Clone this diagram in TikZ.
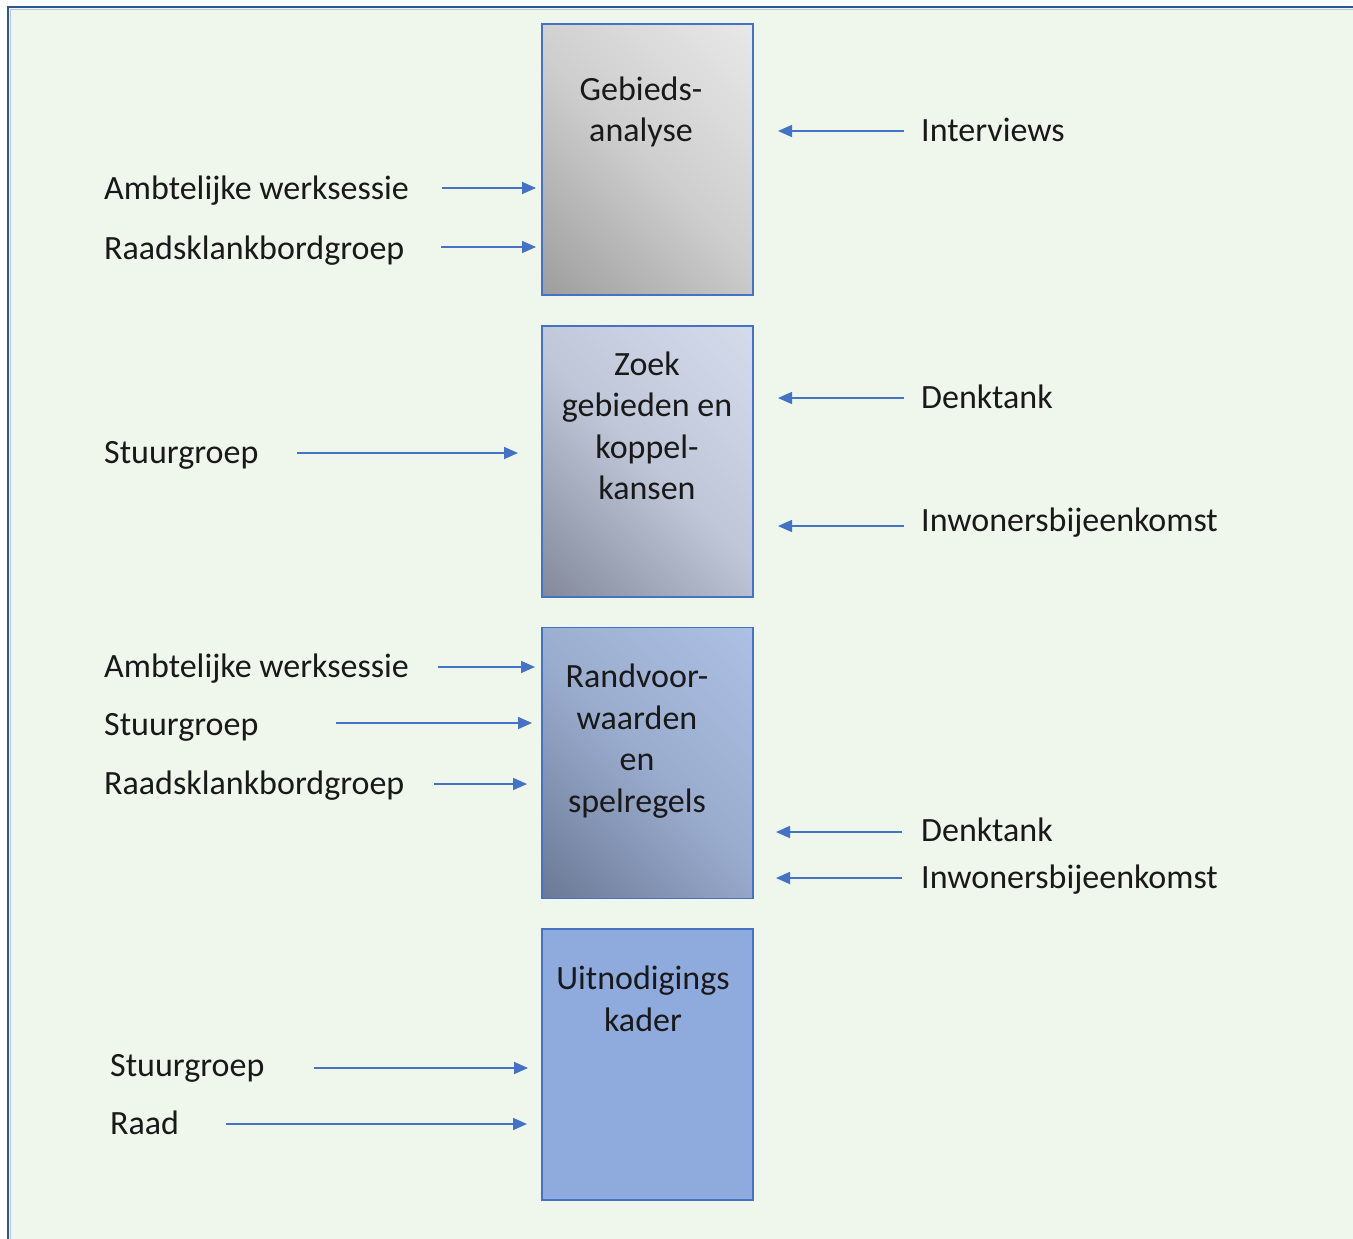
\documentclass[tikz,border=0pt]{standalone}
\usepackage{fontspec}
\setmainfont{Carlito}
\usetikzlibrary{arrows.meta}
\definecolor{kaderblauw}{RGB}{47,85,151}
\definecolor{randblauw}{RGB}{68,114,196}
\definecolor{pijlblauw}{RGB}{68,114,196}
\definecolor{achtergrond}{RGB}{239,246,236}
\definecolor{fasevier}{RGB}{143,170,220}

% verlopen van licht (rechtsboven) naar donker (linksonder)
\definecolor{gaA}{RGB}{138,138,138}\definecolor{gaB}{RGB}{206,206,206}\definecolor{gaC}{RGB}{243,243,243}
\definecolor{zkA}{RGB}{106,112,128}\definecolor{zkB}{RGB}{190,198,216}\definecolor{zkC}{RGB}{221,229,244}
\definecolor{rsA}{RGB}{88,100,126}\definecolor{rsB}{RGB}{154,172,206}\definecolor{rsC}{RGB}{181,201,237}
\pgfdeclareverticalshading{gaverloop}{100bp}{color(0bp)=(gaA); color(50bp)=(gaB); color(100bp)=(gaC)}
\pgfdeclareverticalshading{zkverloop}{100bp}{color(0bp)=(zkA); color(50bp)=(zkB); color(100bp)=(zkC)}
\pgfdeclareverticalshading{rsverloop}{100bp}{color(0bp)=(rsA); color(50bp)=(rsB); color(100bp)=(rsC)}

\begin{document}
\begin{tikzpicture}[x=1pt,y=-1pt,
                    every node/.style={font=\fontsize{34}{41.5}\selectfont,text=black!90}]

  \tikzstyle{fase}=[rectangle,draw=randblauw,line width=1.8pt,minimum width=211pt,
                    minimum height=271pt,inner sep=0pt]
  \tikzstyle{fasetekst}=[anchor=north,align=center,inner sep=0pt]
  \tikzstyle{invoer}=[anchor=base west,inner sep=0pt]
  \tikzstyle{pijl}=[-{Triangle[length=14pt,width=12pt]},draw=pijlblauw,fill=pijlblauw,line width=1.6pt]

  \useasboundingbox (0,0) rectangle (1353,1239);
  \fill[achtergrond] (8,7) rectangle (1353,1239);
  \draw[kaderblauw,line width=2.5pt] (8,1239) -- (8,7) -- (1353,7);
  \draw[randblauw!40,line width=1pt] (10.5,1239) -- (10.5,9.5) -- (1353,9.5);

  % fasen
  \node[fase,shading=gaverloop,shading angle=-45] (GA) at (647.5,159.5) {};
  \node[fase,shading=zkverloop,shading angle=-45] (ZK) at (647.5,461.5) {};
  \node[fase,shading=rsverloop,shading angle=-45] (RS) at (647.5,763) {};
  \node[fase,fill=fasevier] (UK) at (647.5,1064.5) {};

  \node[fasetekst] (GAt) at (641,76.5) {Gebieds-\\analyse};
  \node[fasetekst] (ZKt) at (647,351.5) {Zoek\\gebieden en\\koppel-\\kansen};
  \node[fasetekst] (RSt) at (637,664) {Randvoor-\\waarden\\en\\spelregels};
  \node[fasetekst] (UKt) at (643,966) {Uitnodigings\\kader};

  % links
  \node[invoer] (AW1) at (104,199) {Ambtelijke werksessie};
  \node[invoer] (RK1) at (104,259) {Raadsklankbordgroep};
  \node[invoer] (SG1) at (104,463) {Stuurgroep};
  \node[invoer] (AW2) at (104,677) {Ambtelijke werksessie};
  \node[invoer] (SG2) at (104,735) {Stuurgroep};
  \node[invoer] (RK2) at (104,794) {Raadsklankbordgroep};
  \node[invoer] (SG3) at (110,1076) {Stuurgroep};
  \node[invoer] (RD)  at (110,1134) {Raad};

  % rechts
  \node[invoer] (IV)  at (921,141) {Interviews};
  \node[invoer] (DT1) at (921,408) {Denktank};
  \node[invoer] (IB1) at (921,531) {Inwonersbijeenkomst};
  \node[invoer] (DT2) at (921,841) {Denktank};
  \node[invoer] (IB2) at (921,888) {Inwonersbijeenkomst};

  \coordinate (AW1a) at (442,188);  \coordinate (AW1b) at (536,188);
  \coordinate (RK1a) at (441,247);  \coordinate (RK1b) at (536,247);
  \coordinate (SG1a) at (297,453);  \coordinate (SG1b) at (518,453);
  \coordinate (AW2a) at (438,667);  \coordinate (AW2b) at (535,667);
  \coordinate (SG2a) at (336,723);  \coordinate (SG2b) at (532,723);
  \coordinate (RK2a) at (434,784);  \coordinate (RK2b) at (527,784);
  \coordinate (SG3a) at (314,1068); \coordinate (SG3b) at (528,1068);
  \coordinate (RDa)  at (226,1124); \coordinate (RDb)  at (527,1124);

  \coordinate (IVa)  at (904,131);  \coordinate (IVb)  at (778,131);
  \coordinate (DT1a) at (904,398);  \coordinate (DT1b) at (778,398);
  \coordinate (IB1a) at (904,526);  \coordinate (IB1b) at (778,526);
  \coordinate (DT2a) at (902,832);  \coordinate (DT2b) at (776,832);
  \coordinate (IB2a) at (902,878);  \coordinate (IB2b) at (776,878);

  \draw[pijl] (AW1a) -- (AW1b);
  \draw[pijl] (RK1a) -- (RK1b);
  \draw[pijl] (SG1a) -- (SG1b);
  \draw[pijl] (AW2a) -- (AW2b);
  \draw[pijl] (SG2a) -- (SG2b);
  \draw[pijl] (RK2a) -- (RK2b);
  \draw[pijl] (SG3a) -- (SG3b);
  \draw[pijl] (RDa)  -- (RDb);

  \draw[pijl] (IVa)  -- (IVb);
  \draw[pijl] (DT1a) -- (DT1b);
  \draw[pijl] (IB1a) -- (IB1b);
  \draw[pijl] (DT2a) -- (DT2b);
  \draw[pijl] (IB2a) -- (IB2b);

\end{tikzpicture}
\end{document}
